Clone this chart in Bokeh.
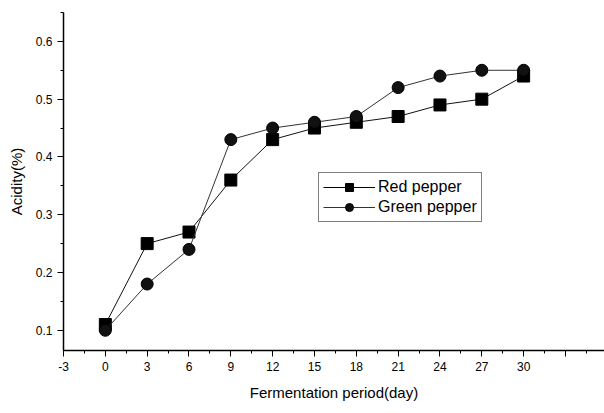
from bokeh.plotting import figure
from bokeh.models import FixedTicker, Legend, LegendItem, ColumnDataSource, Range1d
from bokeh.embed import file_html
from bokeh.resources import INLINE

days = [0, 3, 6, 9, 12, 15, 18, 21, 24, 27, 30]
red_pepper = [0.11, 0.25, 0.27, 0.36, 0.43, 0.45, 0.46, 0.47, 0.49, 0.50, 0.54]
green_pepper = [0.10, 0.18, 0.24, 0.43, 0.45, 0.46, 0.47, 0.52, 0.54, 0.55, 0.55]
x_ticks = [-3, 0, 3, 6, 9, 12, 15, 18, 21, 24, 27, 30, 33]
y_ticks = [0.1, 0.2, 0.3, 0.4, 0.5, 0.6]
x_title = "Fermentation period(day)"
y_title = "Acidity(%)"

FONT = "Liberation Sans"

p = figure(width=604, height=413, output_backend="svg", toolbar_location=None,
           x_range=Range1d(-3, 35.8), y_range=Range1d(0.065, 0.65),
           min_border_left=63, min_border_right=0, min_border_top=12, min_border_bottom=63)
p.outline_line_color = None
p.xgrid.visible = False
p.ygrid.visible = False

src_r = ColumnDataSource(dict(x=days, y=red_pepper))
src_g = ColumnDataSource(dict(x=days, y=green_pepper))

p.line("x", "y", source=src_r, line_color="#111111", line_width=1)
p.scatter("x", "y", source=src_r, marker="square", size=12, fill_color="black", line_color="black")
p.line("x", "y", source=src_g, line_color="#333333", line_width=1)
p.scatter("x", "y", source=src_g, marker="circle", size=12, fill_color="#111111", line_color="black")

# legend-only renderers (smaller markers, like the reference); their point lies off the visible range
off = ColumnDataSource(dict(x=[-100], y=[-100]))
lr1 = p.line("x", "y", source=off, line_color="black", line_width=1)
lr2 = p.scatter("x", "y", source=off, marker="square", size=9, fill_color="black", line_color="black")
lg1 = p.line("x", "y", source=off, line_color="#333333", line_width=1)
lg2 = p.scatter("x", "y", source=off, marker="circle", size=9, fill_color="#111111", line_color="black")

legend = Legend(items=[LegendItem(label="Red pepper", renderers=[lr1, lr2]),
                       LegendItem(label="Green pepper", renderers=[lg1, lg2])],
                location=(255, 128), border_line_color="black", border_line_width=1,
                label_text_font=FONT, label_text_font_size="16px", label_text_color="black",
                glyph_width=52, glyph_height=20, label_height=20, label_standoff=3,
                spacing=0, padding=4, margin=0, background_fill_alpha=1)
p.add_layout(legend, "center")

xa = p.xaxis[0]
xa.ticker = FixedTicker(ticks=x_ticks, minor_ticks=[t + 1.5 for t in x_ticks])
xa.major_label_overrides = {-3: "-3", 33: ""}
xa.axis_label = x_title
ya = p.yaxis[0]
ya.ticker = FixedTicker(ticks=y_ticks, minor_ticks=[0.15, 0.25, 0.35, 0.45, 0.55, 0.65])
ya.axis_label = y_title

for ax in (xa, ya):
    ax.axis_line_color = "black"
    ax.axis_line_width = 1.5
    ax.major_tick_line_color = "black"
    ax.minor_tick_line_color = "black"
    ax.major_tick_in = 0
    ax.major_tick_out = 6
    ax.minor_tick_in = 0
    ax.minor_tick_out = 3
    ax.major_label_text_font = FONT
    ax.major_label_text_font_size = "12px"
    ax.major_label_text_color = "black"
    ax.major_label_standoff = 5
    ax.axis_label_text_font = FONT
    ax.axis_label_text_font_style = "normal"
    ax.axis_label_text_font_size = "15px"
    ax.axis_label_text_color = "black"

ya.axis_label_standoff = 8
xa.axis_label_standoff = 10

open("out.html", "w").write(file_html(p, INLINE))
